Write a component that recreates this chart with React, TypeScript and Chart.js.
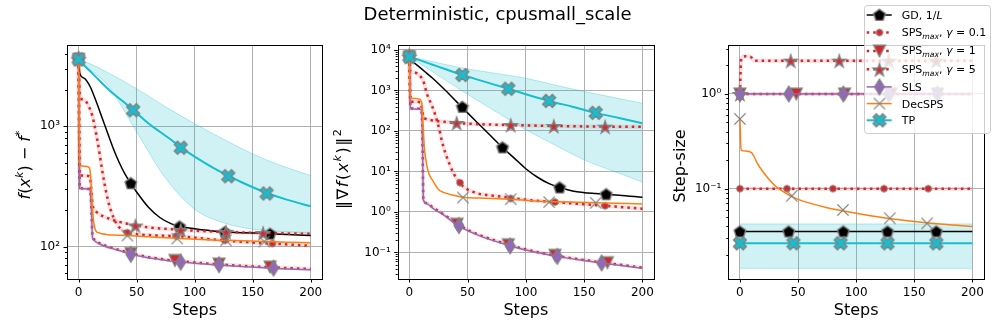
import React, { useEffect, useRef } from 'react';
import { Chart, registerables } from 'chart.js';

Chart.register(...registerables);

const FONT = "'DejaVu Sans', 'Liberation Sans', sans-serif";
const FIG_W = 997;
const FIG_H = 332;

// ---------------- data ----------------
const X_TICKS = [0, 50, 100, 150, 200];

// Panel A : f(x^k) - f*
const lossSteps = [0, 1, 5, 9, 10, 11, 12, 13, 15, 18, 20, 25, 30, 35, 40, 45, 50, 60, 70, 80, 90, 100, 120, 140, 160, 180, 200];
const lossSps01 = [3600, 1800, 1650, 1450, 1380, 1300, 1200, 1100, 880, 600, 450, 250, 175, 145, 133, 129, 127, 125, 124, 123, 121.5, 119, 114, 110, 107, 104.5, 102];
const lossSps1 = [3600, 306, 305, 301, 296, 212, 122, 116, 111, 107, 105, 100, 97, 94, 91, 88, 86, 82, 79.5, 77, 75.5, 74, 71.5, 69.5, 68, 66.5, 65.5];
const lossSps5 = [3600, 390, 390, 386, 372, 285, 222, 206, 196, 186, 181, 173, 166, 161, 157, 153, 150, 145, 142, 140, 138, 136, 133.5, 131.5, 130, 129, 128];
const lossSls = [3600, 304, 303, 300, 294, 208, 119, 114, 109.5, 105.5, 103.5, 99, 96, 93, 90, 87, 84.5, 81, 78.5, 76, 74.5, 73, 70.5, 68.5, 67, 65.5, 64.5];
const lossDec = [3600, 470, 466, 456, 420, 300, 200, 160, 135, 130, 128, 126, 125, 124.5, 124, 123.5, 123, 121, 119.5, 118, 116.5, 115.5, 113.5, 112, 110.5, 109, 108];
const lossGdSteps = [0, 1, 5, 10, 15, 20, 25, 30, 35, 40, 45, 50, 60, 70, 80, 90, 100, 120, 140, 160, 180, 200];
const lossGd = [3600, 2750, 2500, 2130, 1620, 1195, 880, 652, 500, 400, 336, 285, 214, 175, 155, 146, 141, 134, 131, 129, 126.5, 124];
const lossTpSteps = [0, 1, 5, 10, 15, 20, 30, 40, 50, 60, 70, 80, 90, 100, 120, 140, 160, 180, 200];
const lossTp = [3600, 3520, 3200, 2860, 2560, 2290, 1860, 1560, 1290, 1060, 900, 770, 650, 560, 430, 345, 285, 245, 217];
const lossTpBandSteps = [0, 10, 25, 50, 75, 100, 125, 150, 175, 200];
const lossTpHi = [3600, 3300, 2800, 2050, 1450, 1050, 780, 590, 470, 390];
const lossTpLo = [3600, 2950, 2200, 900, 370, 205, 158, 140, 134, 130];

const lossGdMkSteps = [0, 45, 87, 126, 165];
const lossGdMk = [3600, 336, 147, 132, 128];
const lossSps01MkSteps = [0, 42, 84, 126, 167];
const lossSps01Mk = [3600, 131, 122.5, 113, 106.5];
const lossSps1MkSteps = [0, 45, 83, 121, 165];
const lossSps1Mk = [3600, 88, 77, 72, 68];
const lossSps5MkSteps = [0, 49, 88, 127, 159];
const lossSps5Mk = [3600, 150, 138, 133, 130];
const lossSlsMkSteps = [0, 45, 88, 121, 168];
const lossSlsMk = [3600, 86.5, 74.5, 71, 66.5];
const lossDecMkSteps = [0, 42, 85, 127, 160];
const lossDecMk = [3600, 124, 117, 113, 110.5];
const lossTpMkSteps = [0, 47, 88, 129, 162];
const lossTpMk = [3600, 1360, 664, 385, 277];

// Panel B : ||grad f(x^k)||^2
const gradGdSteps = [0, 1, 5, 10, 15, 20, 30, 40, 50, 60, 70, 80, 90, 100, 110, 120, 130, 140, 150, 160, 170, 180, 200];
const gradGd = [6800, 5600, 4600, 3520, 2650, 2000, 1070, 546, 280, 145, 75, 39, 21.4, 11.7, 7.2, 5.0, 4.0, 3.3, 3.0, 2.85, 2.72, 2.6, 2.3];
const gradSps01Steps = [0, 1, 5, 9, 12, 15, 18, 20, 22, 24, 26, 28, 31, 35, 38, 43, 50, 54, 60, 74, 100, 125, 150, 168, 200];
const gradSps01 = [6800, 2920, 2750, 2300, 1700, 850, 520, 380, 260, 170, 100, 55, 28, 14, 9, 5.3, 3.6, 3.2, 2.8, 2.5, 2.0, 1.75, 1.55, 1.42, 1.2];
const gradSps5Steps = [0, 1, 5, 9, 10, 11, 12, 13, 15, 20, 30, 40, 60, 87, 124, 168, 200];
const gradSps5 = [6800, 530, 525, 515, 480, 330, 220, 205, 195, 182, 168, 158, 147, 140, 133, 128, 127];
const gradSlsSteps = [0, 1, 5, 9, 10, 10.5, 11, 11.5, 12, 15, 20, 30, 42, 60, 87, 100, 127, 150, 165, 200];
const gradSls = [6800, 350, 348, 345, 340, 300, 150, 20, 2.0, 1.6, 1.25, 0.82, 0.46, 0.26, 0.145, 0.115, 0.08, 0.063, 0.055, 0.041];
const gradSps1 = [6800, 360, 358, 355, 350, 310, 160, 22, 2.1, 1.65, 1.3, 0.85, 0.48, 0.27, 0.15, 0.118, 0.082, 0.065, 0.057, 0.042];
const gradDecSteps = [0, 1, 5, 8, 10, 11, 12, 12.5, 13, 15, 17, 20, 25, 30, 40, 46, 60, 87, 120, 160, 200];
const gradDec = [6800, 640, 635, 620, 560, 400, 100, 55, 35, 14, 8.5, 6, 3.6, 3.0, 2.5, 2.3, 2.2, 2.05, 1.8, 1.7, 1.58];
const gradTpSteps = [0, 10, 20, 30, 45, 60, 85, 100, 120, 140, 160, 180, 200];
const gradTp = [6800, 5450, 4330, 3440, 2440, 1800, 1100, 807, 552, 396, 280, 209, 155];
const gradTpBandSteps = [0, 22, 44, 72, 100, 125, 150, 175, 200];
const gradTpHi = [6800, 5000, 3660, 2700, 2000, 1365, 940, 676, 484];
const gradTpLo = [6800, 2650, 1030, 330, 107, 45, 19.4, 10.2, 5.5];

const gradGdMkSteps = [0, 45.5, 80, 129, 169];
const gradGdMk = [6800, 390, 39, 4.0, 2.72];
const gradSps01MkSteps = [0, 43.5, 87, 125, 168];
const gradSps01Mk = [6800, 5.3, 2.15, 1.75, 1.42];
const gradSps1MkSteps = [0, 41, 85, 125, 170];
const gradSps1Mk = [6800, 0.5, 0.155, 0.085, 0.056];
const gradSps5MkSteps = [0, 40.6, 87, 124, 168];
const gradSps5Mk = [6800, 158, 140, 133, 128];
const gradSlsMkSteps = [0, 42.6, 86.6, 127, 165];
const gradSlsMk = [6800, 0.46, 0.145, 0.08, 0.055];
const gradDecMkSteps = [0, 46, 87, 120, 160];
const gradDecMk = [6800, 2.27, 2.07, 1.75, 1.68];
const gradTpMkSteps = [0, 45.5, 85, 120, 160];
const gradTpMk = [6800, 2415, 1100, 552, 280];

// Panel C : step-size
const ssFlatSteps = [0, 200];
const ssGd = [0.0352, 0.0352];
const ssSps01 = [0.1, 0.1];
const ssSps1 = [1, 1];
const ssSls = [1, 1];
const ssTp = [0.0265, 0.0265];
const ssTpHi = [0.0424, 0.0424];
const ssTpLo = [0.0144, 0.0144];
const ssSps5Steps = [0, 1, 2, 5, 9, 10, 11, 12, 13, 200];
const ssSps5 = [1.0, 2.3, 2.45, 2.5, 2.48, 2.42, 2.32, 2.26, 2.25, 2.25];
const ssDecSteps = [0, 1, 5, 10, 12, 15, 20, 30, 45, 50, 75, 100, 125, 150, 175, 200];
const ssDec = [0.55, 0.256, 0.25, 0.24, 0.22, 0.185, 0.15, 0.108, 0.082, 0.077, 0.063, 0.055, 0.049, 0.045, 0.042, 0.0398];

const ssGdMkSteps = [0, 42, 89, 127, 169];
const ssGdMk = [0.0352, 0.0352, 0.0352, 0.0352, 0.0352];
const ssSps01MkSteps = [0, 40.5, 80, 124, 162];
const ssSps01Mk = [0.1, 0.1, 0.1, 0.1, 0.1];
const ssSps1MkSteps = [0, 48.5, 90, 130, 170];
const ssSps1Mk = [1, 1, 1, 1, 1];
const ssSps5MkSteps = [0, 43.7, 85.5, 128, 169];
const ssSps5Mk = [1.0, 2.25, 2.25, 2.25, 2.25];
const ssSlsMkSteps = [0, 42, 89, 128, 170];
const ssSlsMk = [1, 1, 1, 1, 1];
const ssDecMkSteps = [0, 44.6, 88.6, 129, 161];
const ssDecMk = [0.545, 0.084, 0.0596, 0.0487, 0.043];
const ssTpMkSteps = [0, 46, 86.6, 127, 169];
const ssTpMk = [0.0265, 0.0265, 0.0265, 0.0265, 0.0265];

// ---------------- styles ----------------
const EDGE = '#808080';
const STYLE: Record<string, { color: string; width: number; dotted?: boolean; marker: string; fill: string; shadow?: string }> = {
  gd: { color: '#000000', width: 1.5, marker: 'pentagon', fill: '#000000' },
  sps01: { color: '#d62728', width: 2.5, dotted: true, marker: 'circle', fill: '#d62728', shadow: 'rgba(214,39,40,0.14)' },
  sps1: { color: '#d62728', width: 2.5, dotted: true, marker: 'triDown', fill: '#d62728', shadow: 'rgba(214,39,40,0.14)' },
  sps5: { color: '#d62728', width: 2.5, dotted: true, marker: 'star', fill: '#d62728', shadow: 'rgba(214,39,40,0.14)' },
  sls: { color: '#9467bd', width: 1.5, marker: 'diamond', fill: '#9467bd' },
  dec: { color: '#ff7f0e', width: 1.5, marker: 'x', fill: EDGE },
  tp: { color: '#17becf', width: 2, marker: 'Xfill', fill: '#17becf' },
};
const SERIES_ORDER = ['gd', 'sps01', 'sps1', 'sps5', 'sls', 'dec', 'tp'];

type Seg = { t: string; it?: boolean; sup?: boolean; sub?: boolean };

const LEGEND_ROWS: { key: string; label: Seg[] }[] = [
  { key: 'gd', label: [{ t: 'GD, 1/' }, { t: 'L', it: true }] },
  { key: 'sps01', label: [{ t: 'SPS' }, { t: 'max', it: true, sub: true }, { t: ', ' }, { t: 'γ', it: true }, { t: ' = 0.1' }] },
  { key: 'sps1', label: [{ t: 'SPS' }, { t: 'max', it: true, sub: true }, { t: ', ' }, { t: 'γ', it: true }, { t: ' = 1' }] },
  { key: 'sps5', label: [{ t: 'SPS' }, { t: 'max', it: true, sub: true }, { t: ', ' }, { t: 'γ', it: true }, { t: ' = 5' }] },
  { key: 'sls', label: [{ t: 'SLS' }] },
  { key: 'dec', label: [{ t: 'DecSPS' }] },
  { key: 'tp', label: [{ t: 'TP' }] },
];

// ---------------- helpers ----------------
function markerCanvas(kind: string, fill: string): HTMLCanvasElement {
  const S = 22;
  const c = document.createElement('canvas');
  c.width = S;
  c.height = S;
  const g = c.getContext('2d')!;
  const cx = S / 2;
  const cy = S / 2;
  g.fillStyle = fill;
  g.strokeStyle = EDGE;
  g.lineWidth = 1.4;
  g.lineJoin = 'miter';
  g.beginPath();
  if (kind === 'pentagon') {
    const r = 6.2;
    for (let i = 0; i < 5; i++) {
      const a = -Math.PI / 2 + (i * 2 * Math.PI) / 5;
      const px = cx + r * Math.cos(a);
      const py = cy + 0.4 + r * Math.sin(a);
      if (i) g.lineTo(px, py);
      else g.moveTo(px, py);
    }
    g.closePath();
  } else if (kind === 'circle') {
    g.arc(cx, cy, 3.3, 0, Math.PI * 2);
    g.lineWidth = 1;
  } else if (kind === 'triDown') {
    const r = 5.8;
    g.moveTo(cx, cy + r);
    g.lineTo(cx - r, cy - r);
    g.lineTo(cx + r, cy - r);
    g.closePath();
  } else if (kind === 'star') {
    const R = 6.6;
    const ri = R * 0.382;
    for (let i = 0; i < 10; i++) {
      const a = -Math.PI / 2 + (i * Math.PI) / 5;
      const rr = i % 2 ? ri : R;
      const px = cx + rr * Math.cos(a);
      const py = cy + 0.8 + rr * Math.sin(a);
      if (i) g.lineTo(px, py);
      else g.moveTo(px, py);
    }
    g.closePath();
  } else if (kind === 'diamond') {
    const h = 7.6;
    const w = 4.8;
    g.moveTo(cx, cy - h);
    g.lineTo(cx + w, cy);
    g.lineTo(cx, cy + h);
    g.lineTo(cx - w, cy);
    g.closePath();
  } else if (kind === 'x') {
    const r = 5.6;
    g.moveTo(cx - r, cy - r);
    g.lineTo(cx + r, cy + r);
    g.moveTo(cx + r, cy - r);
    g.lineTo(cx - r, cy + r);
    g.lineWidth = 1.3;
    g.stroke();
    return c;
  } else if (kind === 'Xfill') {
    const L = 6.8;
    const w = 2.3;
    const pts = [
      [-w, -L], [w, -L], [w, -w], [L, -w], [L, w], [w, w],
      [w, L], [-w, L], [-w, w], [-L, w], [-L, -w], [-w, -w],
    ];
    pts.forEach(([x, y], i) => {
      const px = cx + (x - y) / Math.SQRT2;
      const py = cy + (x + y) / Math.SQRT2;
      if (i) g.lineTo(px, py);
      else g.moveTo(px, py);
    });
    g.closePath();
  }
  g.fill();
  g.stroke();
  return c;
}

const SUP: Record<string, string> = { '0': '⁰', '1': '¹', '2': '²', '3': '³', '4': '⁴', '5': '⁵', '6': '⁶', '7': '⁷', '8': '⁸', '9': '⁹', '-': '⁻' };
const isMajor = (v: number) => Math.abs(Math.log10(v) - Math.round(Math.log10(v))) < 1e-9;
const powLabel = (v: number) => '10' + String(Math.round(Math.log10(v))).split('').map((ch) => SUP[ch]).join('');

function logTicks(min: number, max: number) {
  const out: { value: number }[] = [];
  for (let e = Math.floor(Math.log10(min)); e <= Math.ceil(Math.log10(max)); e++) {
    for (let m = 1; m <= 9; m++) {
      const v = e < 0 ? m / Math.pow(10, -e) : m * Math.pow(10, e);
      if (v >= min && v <= max) out.push({ value: v });
    }
  }
  return out;
}

function segFont(s: Seg, size: number) {
  const sz = s.sup || s.sub ? size * 0.7 : size;
  return `${s.it ? 'italic ' : ''}${sz}px ${FONT}`;
}

function drawRich(ctx: CanvasRenderingContext2D, segs: Seg[], x: number, y: number, size: number, align: 'left' | 'center', gap = 0) {
  let total = 0;
  const widths = segs.map((s) => {
    ctx.font = segFont(s, size);
    const w = ctx.measureText(s.t).width + gap;
    total += w;
    return w;
  });
  total -= gap;
  let cx = align === 'center' ? x - total / 2 : x;
  ctx.textAlign = 'left';
  ctx.textBaseline = 'alphabetic';
  segs.forEach((s, i) => {
    ctx.font = segFont(s, size);
    const dy = s.sup ? -size * 0.42 : s.sub ? size * 0.27 : 0;
    ctx.fillText(s.t, cx, y + dy);
    cx += widths[i];
  });
}

type SeriesData = { key: string; steps: number[]; vals: number[]; mSteps: number[]; mVals: number[] };
type PanelDef = {
  left: number;
  right: number;
  yMin: number;
  yMax: number;
  series: SeriesData[];
  band: { steps: number[]; hi: number[]; lo: number[] };
  yTitle: Seg[];
  yTitleX: number;
  yTitleY: number;
  yTitleGap?: number;
  suptitle?: boolean;
  legend?: boolean;
};

const TOP = 45;
const BOTTOM = 279;

const pts = (xs: number[], ys: number[]) => xs.map((x, i) => ({ x, y: ys[i] }));

function buildChart(canvas: HTMLCanvasElement, p: PanelDef, markers: Record<string, HTMLCanvasElement>) {
  const ds: any[] = [];
  const lineDs = (xs: number[], ys: number[], color: string, width: number, dash?: number[]) => ({
    type: 'line',
    data: pts(xs, ys),
    borderColor: color,
    borderWidth: width,
    borderDash: dash || [],
    borderCapStyle: 'butt',
    pointRadius: 0,
    fill: false,
    tension: 0.4,
    cubicInterpolationMode: 'monotone',
  });
  // std shadows (fill_between, below lines)
  for (const s of p.series) {
    const st = STYLE[s.key];
    if (st.shadow) ds.push(lineDs(s.steps, s.vals, st.shadow, 4));
  }
  // TP band
  const iu = ds.length;
  ds.push(lineDs(p.band.steps, p.band.hi, 'rgba(23,190,207,0.3)', 1));
  const lo: any = lineDs(p.band.steps, p.band.lo, 'rgba(23,190,207,0.3)', 1);
  lo.fill = iu;
  lo.backgroundColor = 'rgba(23,190,207,0.2)';
  ds.push(lo);
  // lines + markers
  for (const s of p.series) {
    const st = STYLE[s.key];
    ds.push(lineDs(s.steps, s.vals, st.color, st.width, st.dotted ? [2.5, 4] : undefined));
    ds.push({
      type: 'line',
      showLine: false,
      data: pts(s.mSteps, s.mVals),
      pointStyle: markers[s.key],
      pointRadius: 6,
      pointHoverRadius: 6,
      borderWidth: 0,
    });
  }
  ds.forEach((d, i) => (d.order = ds.length - i));

  const yTicks = logTicks(p.yMin, p.yMax);

  const decor = {
    id: 'decor',
    afterDraw(chart: any) {
      const ctx: CanvasRenderingContext2D = chart.ctx;
      const a = chart.chartArea;
      const xs = chart.scales.x;
      const ys = chart.scales.y;
      ctx.save();
      ctx.strokeStyle = '#000';
      ctx.lineWidth = 1;
      ctx.setLineDash([]);
      ctx.beginPath();
      for (const v of X_TICKS) {
        const px = Math.round(xs.getPixelForValue(v)) + 0.5;
        ctx.moveTo(px, a.bottom);
        ctx.lineTo(px, a.bottom + 3.5);
      }
      for (const t of yTicks) {
        const py = Math.round(ys.getPixelForValue(t.value)) + 0.5;
        const len = isMajor(t.value) ? 3.5 : 2;
        ctx.moveTo(a.left - len, py);
        ctx.lineTo(a.left, py);
      }
      ctx.stroke();
      ctx.strokeRect(Math.round(a.left) + 0.5, Math.round(a.top) + 0.5, Math.round(a.right - a.left), Math.round(a.bottom - a.top));

      ctx.fillStyle = '#000';
      // x title
      ctx.font = `16px ${FONT}`;
      ctx.textAlign = 'center';
      ctx.textBaseline = 'alphabetic';
      ctx.fillText('Steps', (a.left + a.right) / 2, 315);
      // y title
      ctx.save();
      ctx.translate(p.yTitleX, p.yTitleY);
      ctx.rotate(-Math.PI / 2);
      drawRich(ctx, p.yTitle, 0, 0, 16, 'center', p.yTitleGap || 0);
      ctx.restore();

      if (p.suptitle) {
        ctx.font = `18px ${FONT}`;
        ctx.textAlign = 'center';
        ctx.textBaseline = 'alphabetic';
        ctx.fillText('Deterministic, cpusmall_scale', 497.5, 20);
      }

      if (p.legend) {
        const bx = 864.5;
        const by = 5.5;
        const bw = 126;
        const bh = 128;
        ctx.beginPath();
        ctx.roundRect(bx, by, bw, bh, 3);
        ctx.fillStyle = 'rgba(255,255,255,0.8)';
        ctx.fill();
        ctx.strokeStyle = '#cccccc';
        ctx.lineWidth = 1;
        ctx.stroke();
        const rowH = (r: { label: Seg[] }) => (r.label.some((s) => s.sub) ? 18.4 : 16.7);
        let cy = 15;
        LEGEND_ROWS.forEach((row, i) => {
          if (i > 0) cy += (rowH(LEGEND_ROWS[i - 1]) + rowH(row)) / 2;
          const st = STYLE[row.key];
          ctx.beginPath();
          ctx.setLineDash(st.dotted ? [2.5, 4] : []);
          ctx.strokeStyle = st.color;
          ctx.lineWidth = st.width;
          ctx.lineCap = 'butt';
          ctx.moveTo(866.7, cy);
          ctx.lineTo(891.7, cy);
          ctx.stroke();
          ctx.setLineDash([]);
          const m = markers[row.key];
          ctx.drawImage(m, 879.5 - m.width / 2, cy - m.height / 2);
          ctx.fillStyle = '#000';
          const hasSub = row.label.some((s) => s.sub);
          drawRich(ctx, row.label, 901.7, cy + (hasSub ? 3.4 : 4), 11, 'left');
        });
      }
      ctx.restore();
    },
  };

  return new Chart(canvas, {
    type: 'line',
    data: { datasets: ds },
    options: {
      responsive: false,
      animation: false,
      devicePixelRatio: 1,
      events: [],
      layout: { padding: { left: 0, top: TOP, right: FIG_W - p.right, bottom: 0 } },
      plugins: { legend: { display: false }, tooltip: { enabled: false }, title: { display: false } },
      scales: {
        x: {
          type: 'linear',
          min: -10,
          max: 210,
          afterBuildTicks: (axis: any) => {
            axis.ticks = X_TICKS.map((v) => ({ value: v }));
          },
          afterFit: (axis: any) => {
            axis.height = FIG_H - BOTTOM;
          },
          ticks: { autoSkip: false, maxRotation: 0, padding: 7, color: '#000', font: { size: 12, family: FONT }, callback: (v: any) => String(v) },
          grid: { color: '#b0b0b0', lineWidth: 1, drawTicks: false },
          border: { display: false },
        },
        y: {
          type: 'logarithmic',
          min: p.yMin,
          max: p.yMax,
          afterBuildTicks: (axis: any) => {
            axis.ticks = yTicks.map((t) => ({ value: t.value }));
          },
          afterFit: (axis: any) => {
            axis.width = p.left;
          },
          ticks: {
            autoSkip: false,
            padding: 7,
            color: '#000',
            font: { size: 12, family: FONT },
            callback: (v: any) => (isMajor(Number(v)) ? powLabel(Number(v)) : ''),
          },
          grid: {
            color: (c: any) => (c.tick && isMajor(c.tick.value) ? '#b0b0b0' : 'rgba(0,0,0,0)'),
            lineWidth: 1,
            drawTicks: false,
          },
          border: { display: false },
        },
      },
    } as any,
    plugins: [decor as any],
  } as any);
}

export default function App() {
  const r1 = useRef<HTMLCanvasElement>(null);
  const r2 = useRef<HTMLCanvasElement>(null);
  const r3 = useRef<HTMLCanvasElement>(null);

  useEffect(() => {
    document.body.style.margin = '0';
    const markers: Record<string, HTMLCanvasElement> = {};
    for (const k of SERIES_ORDER) markers[k] = markerCanvas(STYLE[k].marker, STYLE[k].fill);

    const panelA: PanelDef = {
      left: 67,
      right: 322.3,
      yMin: 54,
      yMax: 4730,
      series: [
        { key: 'gd', steps: lossGdSteps, vals: lossGd, mSteps: lossGdMkSteps, mVals: lossGdMk },
        { key: 'sps01', steps: lossSteps, vals: lossSps01, mSteps: lossSps01MkSteps, mVals: lossSps01Mk },
        { key: 'sps1', steps: lossSteps, vals: lossSps1, mSteps: lossSps1MkSteps, mVals: lossSps1Mk },
        { key: 'sps5', steps: lossSteps, vals: lossSps5, mSteps: lossSps5MkSteps, mVals: lossSps5Mk },
        { key: 'sls', steps: lossSteps, vals: lossSls, mSteps: lossSlsMkSteps, mVals: lossSlsMk },
        { key: 'dec', steps: lossSteps, vals: lossDec, mSteps: lossDecMkSteps, mVals: lossDecMk },
        { key: 'tp', steps: lossTpSteps, vals: lossTp, mSteps: lossTpMkSteps, mVals: lossTpMk },
      ],
      band: { steps: lossTpBandSteps, hi: lossTpHi, lo: lossTpLo },
      yTitle: [{ t: 'f', it: true }, { t: '(' }, { t: 'x', it: true }, { t: 'k', it: true, sup: true }, { t: ')' }, { t: ' − ' }, { t: 'f', it: true }, { t: '*', sup: true }],
      yTitleX: 29.5,
      yTitleY: 165,
      suptitle: true,
    };
    const panelB: PanelDef = {
      left: 397.7,
      right: 654,
      yMin: 0.0221,
      yMax: 13280,
      series: [
        { key: 'gd', steps: gradGdSteps, vals: gradGd, mSteps: gradGdMkSteps, mVals: gradGdMk },
        { key: 'sps01', steps: gradSps01Steps, vals: gradSps01, mSteps: gradSps01MkSteps, mVals: gradSps01Mk },
        { key: 'sps1', steps: gradSlsSteps, vals: gradSps1, mSteps: gradSps1MkSteps, mVals: gradSps1Mk },
        { key: 'sps5', steps: gradSps5Steps, vals: gradSps5, mSteps: gradSps5MkSteps, mVals: gradSps5Mk },
        { key: 'sls', steps: gradSlsSteps, vals: gradSls, mSteps: gradSlsMkSteps, mVals: gradSlsMk },
        { key: 'dec', steps: gradDecSteps, vals: gradDec, mSteps: gradDecMkSteps, mVals: gradDecMk },
        { key: 'tp', steps: gradTpSteps, vals: gradTp, mSteps: gradTpMkSteps, mVals: gradTpMk },
      ],
      band: { steps: gradTpBandSteps, hi: gradTpHi, lo: gradTpLo },
      yTitle: [{ t: '‖' }, { t: '∇' }, { t: 'f', it: true }, { t: '(' }, { t: 'x', it: true }, { t: 'k', it: true, sup: true }, { t: ')' }, { t: '‖' }, { t: '2', sup: true }],
      yTitleX: 348,
      yTitleY: 169,
      yTitleGap: 1.5,
    };
    const panelC: PanelDef = {
      left: 728.3,
      right: 984,
      yMin: 0.01112,
      yMax: 3.29,
      series: [
        { key: 'gd', steps: ssFlatSteps, vals: ssGd, mSteps: ssGdMkSteps, mVals: ssGdMk },
        { key: 'sps01', steps: ssFlatSteps, vals: ssSps01, mSteps: ssSps01MkSteps, mVals: ssSps01Mk },
        { key: 'sps1', steps: ssFlatSteps, vals: ssSps1, mSteps: ssSps1MkSteps, mVals: ssSps1Mk },
        { key: 'sps5', steps: ssSps5Steps, vals: ssSps5, mSteps: ssSps5MkSteps, mVals: ssSps5Mk },
        { key: 'sls', steps: ssFlatSteps, vals: ssSls, mSteps: ssSlsMkSteps, mVals: ssSlsMk },
        { key: 'dec', steps: ssDecSteps, vals: ssDec, mSteps: ssDecMkSteps, mVals: ssDecMk },
        { key: 'tp', steps: ssFlatSteps, vals: ssTp, mSteps: ssTpMkSteps, mVals: ssTpMk },
      ],
      band: { steps: ssFlatSteps, hi: ssTpHi, lo: ssTpLo },
      yTitle: [{ t: 'Step-size' }],
      yTitleX: 685,
      yTitleY: 166,
      legend: true,
    };

    const charts = [
      buildChart(r1.current!, panelA, markers),
      buildChart(r2.current!, panelB, markers),
      buildChart(r3.current!, panelC, markers),
    ];
    return () => charts.forEach((c) => c.destroy());
  }, []);

  const cs: React.CSSProperties = { position: 'absolute', left: 0, top: 0, width: FIG_W, height: FIG_H };
  return (
    <div style={{ position: 'relative', width: FIG_W, height: FIG_H, background: '#ffffff', overflow: 'hidden' }}>
      <canvas ref={r1} width={FIG_W} height={FIG_H} style={cs} />
      <canvas ref={r2} width={FIG_W} height={FIG_H} style={cs} />
      <canvas ref={r3} width={FIG_W} height={FIG_H} style={cs} />
    </div>
  );
}
